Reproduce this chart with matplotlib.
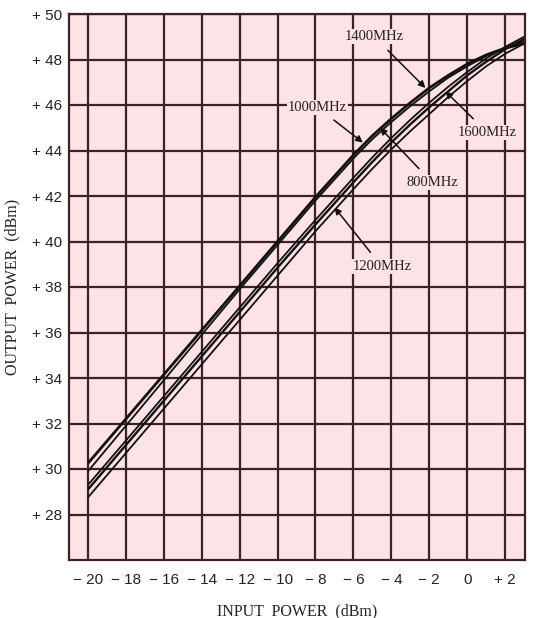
import matplotlib
matplotlib.use("Agg")
import matplotlib.pyplot as plt

# ---- data ----
input_dbm = [-20, -18, -16, -14, -12, -10, -8, -6, -5, -4, -3, -2, -1, 0, 1, 2, 3]

out_1000 = [30.25, 32.2, 34.15, 36.1, 38.05, 40.0, 41.95, 43.8, 44.65, 45.4, 46.1, 46.75, 47.3, 47.8, 48.2, 48.5, 48.7]
out_1400 = [29.9, 31.9, 33.9, 35.9, 37.9, 39.85, 41.8, 43.65, 44.5, 45.25, 45.95, 46.6, 47.2, 47.7, 48.15, 48.5, 48.8]
out_800 = [29.3, 31.25, 33.2, 35.15, 37.1, 39.05, 40.95, 42.8, 43.7, 44.55, 45.35, 46.1, 46.8, 47.45, 48.05, 48.55, 49.0]
out_1600 = [29.1, 31.05, 33.0, 34.95, 36.9, 38.85, 40.75, 42.6, 43.5, 44.35, 45.15, 45.9, 46.6, 47.3, 47.9, 48.45, 48.9]
out_1200 = [28.75, 30.7, 32.65, 34.6, 36.55, 38.5, 40.45, 42.3, 43.2, 44.05, 44.85, 45.6, 46.35, 47.05, 47.7, 48.25, 48.7]

x_ticks = [-20, -18, -16, -14, -12, -10, -8, -6, -4, -2, 0, 2]
x_tick_labels = ["− 20", "− 18", "− 16", "− 14", "− 12", "− 10", "− 8", "− 6", "− 4", "− 2", "0", "+ 2"]
y_ticks = [28, 30, 32, 34, 36, 38, 40, 42, 44, 46, 48, 50]
y_tick_labels = ["+ 28", "+ 30", "+ 32", "+ 34", "+ 36", "+ 38", "+ 40", "+ 42", "+ 44", "+ 46", "+ 48", "+ 50"]

# labels: (text, text position, arrow tip)
labels = ["1400MHz", "1000MHz", "1600MHz", "800MHz", "1200MHz"]
label_xy = [(-4.9, 49.0), (-7.9, 45.9), (1.05, 44.8), (-1.85, 42.6), (-4.5, 38.9)]
arrow_xy = [(-2.2, 46.75), (-5.5, 44.35), (-1.15, 46.6), (-4.6, 45.0), (-7.0, 41.5)]

# ---- figure ----
PINK = "#fde2e6"
GRID = "#3b2224"

fig = plt.figure(figsize=(5.37, 6.18), dpi=100)
ax = fig.add_axes([69 / 537, 1 - 560 / 618, (525 - 69) / 537, (560 - 14) / 618])
ax.set_facecolor(PINK)
ax.set_xlim(-21, 3.05)
ax.set_ylim(26, 50)

ax.set_xticks(x_ticks)
ax.set_xticklabels(x_tick_labels)
ax.set_yticks(y_ticks)
ax.set_yticklabels(y_tick_labels)
ax.tick_params(length=0, labelsize=11)
ax.tick_params(axis="x", pad=9)
ax.tick_params(axis="y", pad=5)
for lab in ax.get_xticklabels() + ax.get_yticklabels():
    lab.set_family("Liberation Sans")
    lab.set_color("#222222")

ax.grid(True, color=GRID, lw=1.6)
ax.set_axisbelow(True)
for s in ax.spines.values():
    s.set_color(GRID)
    s.set_linewidth(1.6)

for ys, lw in [(out_1000, 2.0), (out_1400, 1.3), (out_800, 1.3), (out_1600, 1.7), (out_1200, 1.3)]:
    ax.plot(input_dbm, ys, color="#111111", lw=lw, solid_capstyle="butt", zorder=3)

for txt, txy, axy in zip(labels, label_xy, arrow_xy):
    ax.annotate(txt, xy=axy, xytext=txy, ha="center", va="center",
                fontsize=10.5, family="Liberation Serif", color="#222222",
                bbox=dict(boxstyle="square,pad=0.08", fc=PINK, ec="none"),
                arrowprops=dict(arrowstyle="-|>", color="#111111", lw=1.1,
                                mutation_scale=10, shrinkA=6, shrinkB=0),
                zorder=5)

ax.set_xlabel("INPUT  POWER  (dBm)", family="Liberation Serif", fontsize=11.5,
              labelpad=12, color="#222222")
ax.set_ylabel("OUTPUT  POWER  (dBm)", family="Liberation Serif", fontsize=11.5,
              labelpad=8, color="#222222")

fig.savefig("out.png", dpi=100)
